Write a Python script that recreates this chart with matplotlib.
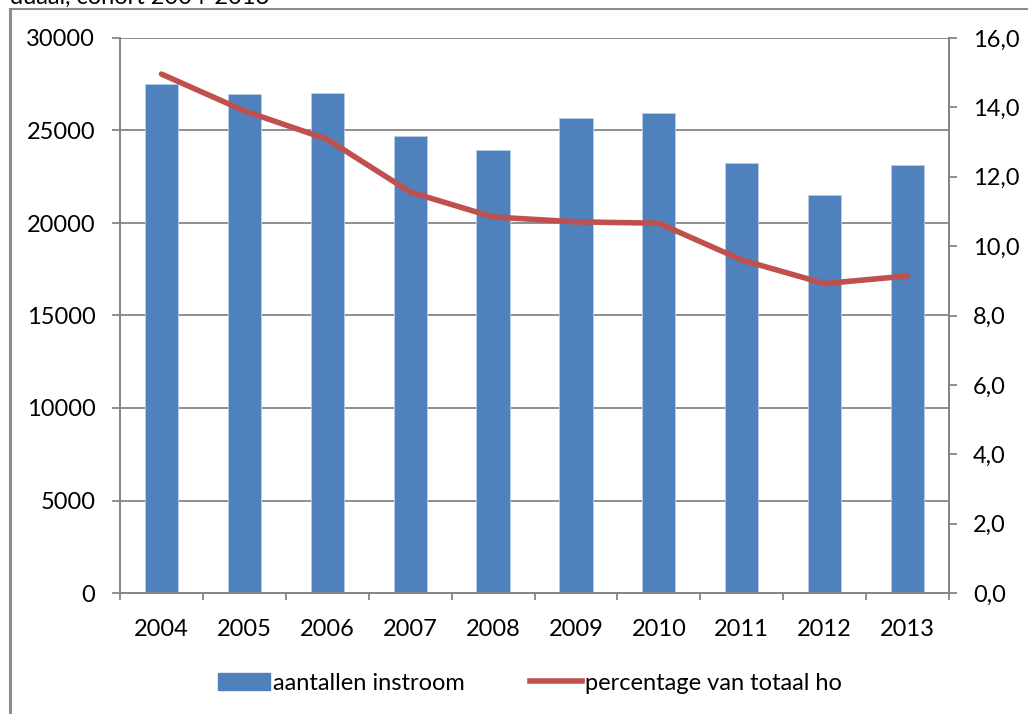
import matplotlib
matplotlib.use('Agg')
import matplotlib.pyplot as plt
import numpy as np
from matplotlib.lines import Line2D
from matplotlib.patches import Patch

plt.rcParams['font.family'] = ['Lato', 'DejaVu Sans']

jaren = ['2004', '2005', '2006', '2007', '2008', '2009', '2010', '2011', '2012', '2013']
instroom = [27500, 26980, 27020, 24720, 23960, 25680, 25960, 23230, 21520, 23140]
percentage = [14.96, 13.90, 13.08, 11.56, 10.84, 10.70, 10.66, 9.60, 8.92, 9.14]

blauw = '#4f81bd'
rood = '#c0504d'
grijs = '#868686'
fs = 17

fig = plt.figure(figsize=(10.28, 7.14), dpi=100)
ax = fig.add_axes([120 / 1028, 1 - 593 / 714, 829 / 1028, 555 / 714])
ax2 = ax.twinx()

x = np.arange(len(jaren))
ax.bar(x, instroom, width=0.4, color=blauw, edgecolor='#b9cde5', linewidth=0.6, zorder=3)
ax.set_xlim(-0.5, len(jaren) - 0.5)
ax.set_ylim(0, 30000)
ax.set_yticks(range(0, 30001, 5000))
ax.yaxis.grid(True, color=grijs, linewidth=1.3, zorder=0)
ax.set_axisbelow(True)

ax.set_xticks(x)
ax.set_xticklabels(jaren)
ax.set_xticks(np.arange(-0.5, len(jaren)), minor=True)
ax.tick_params(axis='x', which='major', length=0, pad=19, labelsize=fs)
ax.tick_params(axis='x', which='minor', length=5, width=1.3, color=grijs)
ax.tick_params(axis='y', length=5.8, width=1.3, color=grijs, labelsize=fs, pad=12)

ax2.plot(x, percentage, color=rood, linewidth=4, solid_capstyle='round', zorder=4)
ax2.set_ylim(0, 16)
ax2.set_yticks(np.arange(0, 16.1, 2))
ax2.set_yticklabels([('%.1f' % v).replace('.', ',') for v in np.arange(0, 16.1, 2)])
ax2.tick_params(axis='y', length=5.8, width=1.3, color=grijs, labelsize=fs, pad=11.5)

for a in (ax, ax2):
    a.spines['top'].set_visible(False)
    for s in ('left', 'right', 'bottom'):
        a.spines[s].set_color(grijs)
        a.spines[s].set_linewidth(1.3)

# kader van de grafiek
fig.add_artist(Line2D([10 / 1028, 10 / 1028], [0, 1 - 9 / 714], color='#8c8c8c', linewidth=2.2))
fig.add_artist(Line2D([10 / 1028, 1], [1 - 9 / 714, 1 - 9 / 714], color='#8c8c8c', linewidth=1.5))

# titel valt grotendeels buiten beeld, net als in het origineel
fig.text(10 / 1028, 1 - 4 / 714, 'duaal, cohort 2004-2013', fontsize=fs, va='baseline', ha='left')

handles = [Patch(facecolor=blauw, edgecolor=blauw), Line2D([0], [0], color=rood, linewidth=4)]
fig.legend(handles, ['aantallen instroom', 'percentage van totaal ho'], loc='center',
           bbox_to_anchor=(530 / 1028, 1 - 683 / 714), ncol=2, frameon=False, fontsize=fs,
           handlelength=2.2, handletextpad=0.1, columnspacing=2.8)

fig.savefig('out.png', dpi=100)
